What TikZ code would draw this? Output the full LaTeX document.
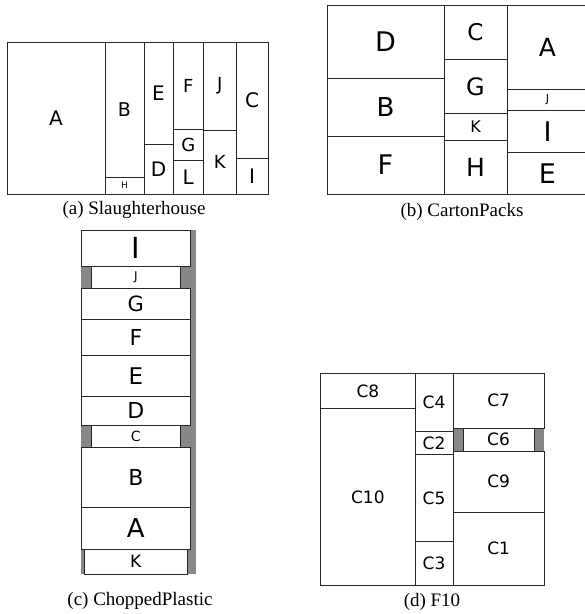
\documentclass[tikz,border=0pt]{standalone}
\usepackage{fontspec}
\newfontfamily\lblfont{DejaVu Sans}
\newfontfamily\capfont{Liberation Serif}
\tikzset{
  boxline/.style={draw=black!85, line width=1pt, fill=white},
  lab/.style={font=\lblfont\fontsize{#1}{#1}\selectfont, inner sep=0pt},
  captxt/.style={font=\capfont\fontsize{19}{19}\selectfont, inner sep=0pt},
  grayfill/.style={fill=black!47},
}
\newcommand\bx[7]{%
  \draw[boxline] (#2,#3) rectangle (#4,#5);
  \node[lab=#6] (#1) at ({(#2+#4)/2},{(#3+#5)/2}) {#7};}
\begin{document}
\begin{tikzpicture}[x=1pt,y=-1pt]
\useasboundingbox (0,0) rectangle (585,614);
% (a) Slaughterhouse
\bx{aA}{7}{42}{105}{194}{20}{A}
\bx{aB}{105}{42}{144}{177}{19}{B}
\bx{aH}{105}{177}{144}{194}{9}{H}
\bx{aE}{144}{42}{173}{144.5}{20}{E}
\bx{aD}{144}{144.5}{173}{194}{20}{D}
\bx{aF}{173}{42}{203.5}{129}{18}{F}
\bx{aG}{173}{129}{203.5}{160}{18}{G}
\bx{aL}{173}{160}{203.5}{194}{20}{L}
\bx{aJ}{203.5}{42}{236}{130}{18}{J}
\bx{aK}{203.5}{130}{236}{194}{18}{K}
\bx{aC}{236}{42}{268}{158.5}{20}{C}
\bx{aI}{236}{158.5}{268}{194}{20}{I}
\node[captxt] (capa) at (134,210) {(a) Slaughterhouse};
% (b) CartonPacks
\bx{bD}{327}{5}{444}{78}{27}{D}
\bx{bB}{327}{78}{444}{136}{26}{B}
\bx{bF}{327}{136}{444}{194}{27}{F}
\bx{bC}{444}{5}{507}{59.5}{23}{C}
\bx{bG}{444}{59.5}{507}{113.5}{24}{G}
\bx{bK}{444}{113.5}{507}{140.5}{16}{K}
\bx{bH}{444}{140.5}{507}{194}{25}{H}
\bx{bA}{507}{5}{588}{89.5}{25}{A}
\bx{bJ}{507}{89.5}{588}{110}{11}{J}
\bx{bI}{507}{110}{588}{152.5}{27}{I}
\bx{bE}{507}{152.5}{588}{194}{27}{E}
\node[captxt] (capb) at (462,212) {(b) CartonPacks};
% (c) ChoppedPlastic
\fill[grayfill] (81,230) rectangle (196,574);
\bx{cI}{81}{230}{190.7}{266.5}{29}{I}
\bx{cJ}{91.7}{266.5}{180}{288.3}{12}{J}
\bx{cG}{81}{288.3}{190.7}{319}{21}{G}
\bx{cF}{81}{319}{190.7}{355}{22}{F}
\bx{cE}{81}{355}{190.7}{396.7}{23}{E}
\bx{cD}{81}{396.7}{190.7}{425}{22}{D}
\bx{cC}{91.7}{425}{180}{447.5}{14}{C}
\bx{cB}{81}{447.5}{190.7}{507.3}{22}{B}
\bx{cA}{81}{507.3}{190.7}{549.5}{26}{A}
\bx{cK}{84.3}{549.5}{187.3}{574}{17}{K}
\node[captxt] (capc) at (140,601) {(c) ChoppedPlastic};
% (d) F10
\fill[grayfill] (453,428) rectangle (544.3,451.3);
\bx{dC8}{320.7}{373.3}{415}{408.7}{17}{C8}
\bx{dC10}{320.7}{408.7}{415}{585.3}{17}{C10}
\bx{dC4}{415}{373.3}{453}{431.7}{17}{C4}
\bx{dC2}{415}{431.7}{453}{454}{17}{C2}
\bx{dC5}{415}{454}{453}{541.7}{17}{C5}
\bx{dC3}{415}{541.7}{453}{585.3}{17}{C3}
\bx{dC7}{453}{373.3}{544.3}{428}{17}{C7}
\bx{dC6}{463}{428}{534}{451.3}{17}{C6}
\bx{dC9}{453}{451.3}{544.3}{512.3}{17}{C9}
\bx{dC1}{453}{512.3}{544.3}{585.3}{17}{C1}
\node[captxt] (capd) at (432,602) {(d) F10};
\end{tikzpicture}
\end{document}
